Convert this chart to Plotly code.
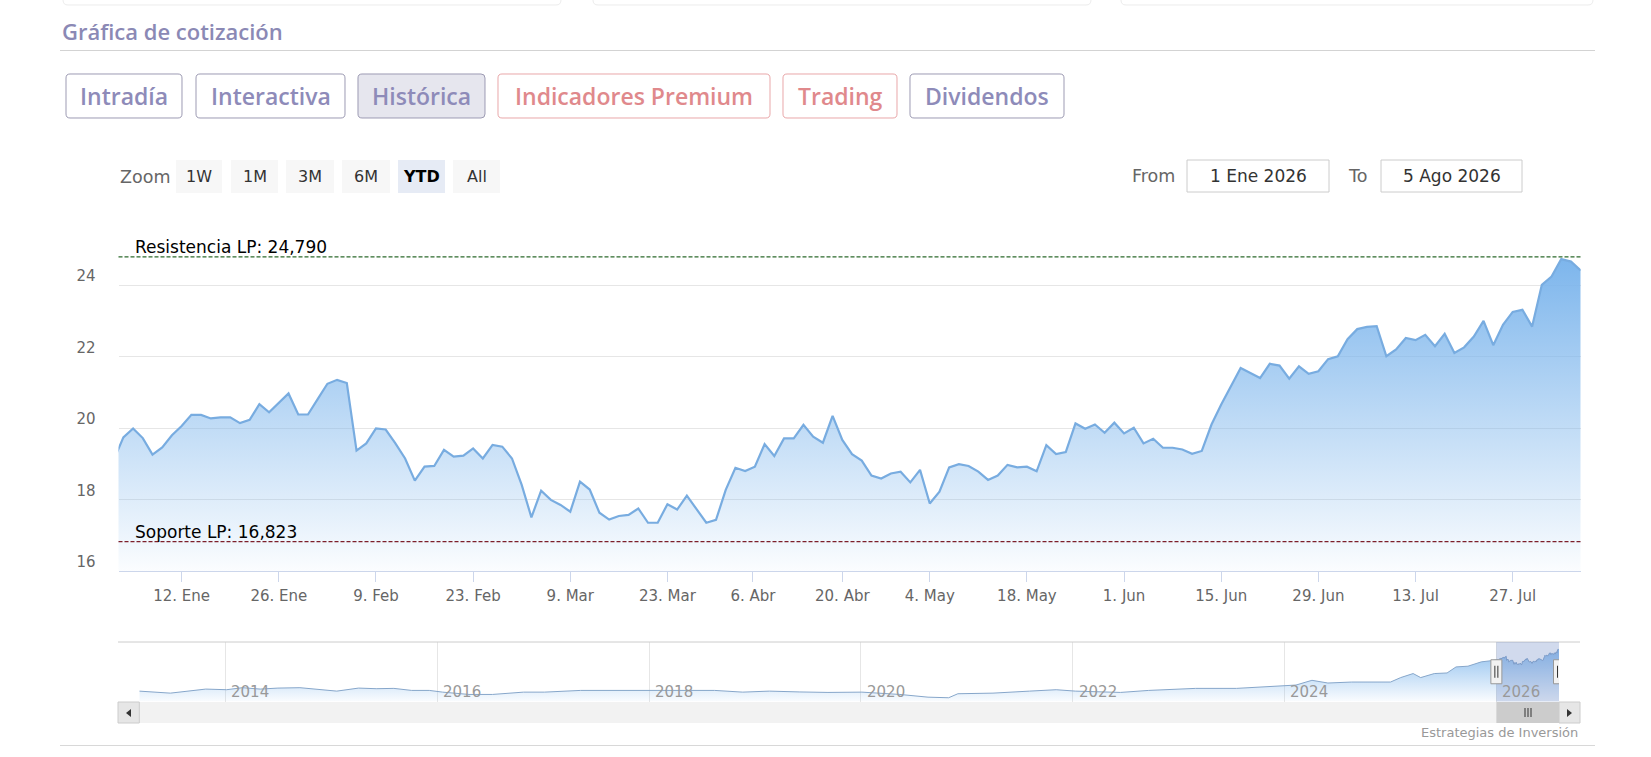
import plotly.graph_objects as go
import pandas as pd
import numpy as np

W, H = 1651, 757

# ------------------------------------------------------------------ data
holidays_2026 = ["2026-01-01", "2026-04-03", "2026-04-06", "2026-05-01"]
trading_days = pd.bdate_range("2025-12-31", "2026-08-05", freq="C", holidays=holidays_2026)

prices = [
    19.10,
    19.74, 19.99, 19.72, 19.26, 19.46, 19.80, 20.06, 20.37, 20.37, 20.27,
    20.30, 20.30, 20.14, 20.23, 20.67, 20.44, 20.70, 20.97, 20.38, 20.38,
    20.81, 21.24, 21.35, 21.26, 19.37, 19.57, 19.99, 19.96, 19.57, 19.15,
    18.53, 18.92, 18.94, 19.39, 19.20, 19.23, 19.43, 19.15, 19.53, 19.48,
    19.15, 18.41, 17.50, 18.25, 17.99, 17.85, 17.66, 18.50, 18.28, 17.63,
    17.44, 17.54, 17.57, 17.75, 17.35, 17.35, 17.87, 17.72, 18.11, 17.72,
    17.35, 17.43, 18.27, 18.89, 18.80, 18.92, 19.55, 19.22, 19.71, 19.71,
    20.09, 19.76, 19.59, 20.34, 19.67, 19.27, 19.09, 18.67, 18.59, 18.73,
    18.78, 18.48, 18.83, 17.89, 18.22, 18.90, 18.99, 18.94, 18.78, 18.55,
    18.67, 18.97, 18.90, 18.92, 18.79, 19.52, 19.27, 19.33, 20.13, 19.98,
    20.10, 19.87, 20.15, 19.85, 20.01, 19.57, 19.70, 19.45, 19.45, 19.40,
    19.28, 19.36, 20.10, 20.66, 21.17, 21.68, 21.54, 21.40, 21.80, 21.75,
    21.38, 21.73, 21.52, 21.59, 21.93, 22.01, 22.49, 22.77, 22.83, 22.85,
    22.01, 22.20, 22.52, 22.46, 22.61, 22.29, 22.64, 22.10, 22.26, 22.56,
    23.00, 22.32, 22.89, 23.25, 23.31, 22.84, 24.01, 24.24, 24.73, 24.66,
    24.41,
]

tick_dates = ["2026-01-12", "2026-01-26", "2026-02-09", "2026-02-23", "2026-03-09",
              "2026-03-23", "2026-04-06", "2026-04-20", "2026-05-04", "2026-05-18",
              "2026-06-01", "2026-06-15", "2026-06-29", "2026-07-13", "2026-07-27"]
tick_labels = ["12. Ene", "26. Ene", "9. Feb", "23. Feb", "9. Mar", "23. Mar", "6. Abr",
               "20. Abr", "4. May", "18. May", "1. Jun", "15. Jun", "29. Jun", "13. Jul",
               "27. Jul"]
y_ticks = [16, 18, 20, 22, 24, 26]
y_tick_labels = ["16", "18", "20", "22", "24", ""]

resistencia = 24.790
soporte = 16.823
range_from, range_to = "2026-01-01", "2026-08-05"

nav_dates = [
    "2013-03-10", "2013-04-25", "2013-06-25", "2013-08-25", "2013-10-25",
    "2014-01-05", "2014-03-01", "2014-05-01", "2014-07-01", "2014-09-15", "2014-11-15",
    "2015-01-20", "2015-04-05", "2015-06-05", "2015-08-05", "2015-10-05", "2015-12-05",
    "2016-01-20", "2016-04-20", "2016-07-10", "2016-10-25",
    "2017-01-05", "2017-05-10", "2017-08-25",
    "2018-01-15", "2018-04-15", "2018-08-15", "2018-11-20",
    "2019-02-20", "2019-06-05", "2019-09-10",
    "2020-01-05", "2020-05-15", "2020-08-20", "2020-10-30", "2020-12-01",
    "2021-04-01", "2021-08-05", "2021-11-05",
    "2022-01-10", "2022-06-15", "2022-09-20",
    "2023-03-01", "2023-07-20", "2023-11-25",
    "2024-02-10", "2024-04-05", "2024-05-30", "2024-08-20", "2024-10-15",
    "2025-01-01", "2025-02-05", "2025-03-20", "2025-04-15", "2025-06-01",
    "2025-07-15", "2025-08-15", "2025-09-25", "2025-11-10", "2025-12-20",
]
nav_values = [
    4.89, 4.41, 3.94, 4.89, 5.84,
    5.55, 6.50, 5.84, 6.31, 6.50, 5.84,
    4.89, 6.31, 6.03, 6.17, 5.22, 5.22,
    4.41, 3.32, 3.32, 4.41,
    4.41, 5.22, 5.22,
    4.89, 4.89, 5.22, 4.41,
    4.89, 4.50, 4.27,
    4.41, 3.32, 2.04, 1.76, 3.65,
    3.94, 4.89, 5.55,
    4.89, 4.27, 5.22,
    6.17, 6.17, 7.12,
    7.74, 9.97, 8.69, 9.16, 9.16,
    9.16, 11.25, 13.15, 11.25, 13.15,
    13.43, 16.28, 16.61, 18.65, 19.30,
]
nav_years = ["2014", "2016", "2018", "2020", "2022", "2024", "2026"]

tabs = ["Intradía", "Interactiva", "Histórica", "Indicadores Premium", "Trading", "Dividendos"]
zoom_buttons = ["1W", "1M", "3M", "6M", "YTD", "All"]

# ------------------------------------------------------------------ helpers
def px(x):
    return x / W


def py(y):
    return 1 - y / H


def rrect(x0, y0, x1, y1, r):
    pts = lambda x, y: f"{px(x):.6f},{py(y):.6f}"
    return (f"M{pts(x0 + r, y0)} L{pts(x1 - r, y0)} Q{pts(x1, y0)} {pts(x1, y0 + r)} "
            f"L{pts(x1, y1 - r)} Q{pts(x1, y1)} {pts(x1 - r, y1)} L{pts(x0 + r, y1)} "
            f"Q{pts(x0, y1)} {pts(x0, y1 - r)} L{pts(x0, y0 + r)} Q{pts(x0, y0)} {pts(x0 + r, y0)} Z")


HC_FONT = "DejaVu Sans"
PAGE_FONT = "Open Sans"

# ordinal positions (trading-day index) like a stock chart
day_ts = trading_days.values.astype("datetime64[s]").astype(np.int64)
pos = np.arange(len(trading_days)) - 1
tick_pos = np.interp(pd.to_datetime(tick_dates).values.astype("datetime64[s]").astype(np.int64), day_ts, pos)
x_start = float(np.interp(pd.Timestamp(range_from).value // 10**9, day_ts, pos))
x_end = float(pos[-1])

# plot geometry (pixels)
PL, PR, PT, PB = 118.5, 1580.7, 213.7, 571.0
NL, NR, NT, NB = 139.3, 1559.0, 642.0, 701.5

fig = go.Figure()

fig.add_trace(go.Scatter(
    x=pos, y=prices, mode="lines",
    line=dict(color="#78ace0", width=2.2),
    fill="tozeroy",
    fillgradient=dict(type="vertical", start=16, stop=24.8,
                      colorscale=[[0, "rgba(124,181,236,0.03)"], [1, "rgba(124,181,236,1.0)"]]),
    hoverinfo="skip", showlegend=False, xaxis="x", yaxis="y",
))

nav_x = nav_dates + [d.strftime("%Y-%m-%d") for d in trading_days[1:]]
nav_y = nav_values + prices[1:]
fig.add_trace(go.Scatter(
    x=nav_x, y=nav_y, mode="lines",
    line=dict(color="#86a6ca", width=1),
    fill="tozeroy",
    fillgradient=dict(type="vertical", start=0, stop=28,
                      colorscale=[[0, "rgba(124,181,236,0.04)"], [1, "rgba(124,181,236,0.95)"]]),
    hoverinfo="skip", showlegend=False, xaxis="x2", yaxis="y2",
))

shapes = []
annotations = []

# faint cards at the very top
for a, b in [(63, 561), (593, 1091), (1121, 1593)]:
    shapes.append(dict(type="path", xref="paper", yref="paper", path=rrect(a, -14, b, 5, 5),
                       line=dict(color="#ececec", width=1), fillcolor="#ffffff", layer="below"))

# heading
annotations.append(dict(text="Gráfica de cotización", x=px(60), y=py(30.5), xref="paper", yref="paper",
                        xanchor="left", yanchor="middle", showarrow=False,
                        font=dict(family=PAGE_FONT, size=22, color="#8b89b5", weight=600)))
shapes.append(dict(type="line", xref="paper", yref="paper", x0=px(60), x1=px(1595), y0=py(50.5), y1=py(50.5),
                   line=dict(color="#d3d3d3", width=1)))

# tabs
tab_boxes = [(66, 182), (196, 345), (358, 485), (498, 770), (783, 897), (910, 1064)]
purple, red = "#8e8bb9", "#e0898c"
for name, (a, b) in zip(tabs, tab_boxes):
    col = red if name in ("Indicadores Premium", "Trading") else purple
    border = "#e9a7a9" if col == red else "#9d9bb3"
    fill = "#e6e6ee" if name == "Histórica" else "#ffffff"
    shapes.append(dict(type="path", xref="paper", yref="paper", path=rrect(a, 74, b, 118, 4),
                       line=dict(color=border, width=1), fillcolor=fill))
    annotations.append(dict(text=name, x=px((a + b) / 2), y=py(96), xref="paper", yref="paper",
                            xanchor="center", yanchor="middle", showarrow=False,
                            font=dict(family=PAGE_FONT, size=23, color=col, weight=600)))

# range selector
annotations.append(dict(text="Zoom", x=px(118), y=py(177), xref="paper", yref="paper", xanchor="left",
                        yanchor="middle", showarrow=False, font=dict(family=HC_FONT, size=17.5, color="#666666")))
zb = [(176, 222), (231, 278), (286, 334), (342, 390), (398, 445), (453, 500)]
for name, (a, b) in zip(zoom_buttons, zb):
    sel = name == "YTD"
    shapes.append(dict(type="rect", xref="paper", yref="paper", x0=px(a), x1=px(b), y0=py(160), y1=py(193),
                       line=dict(width=0), fillcolor="#e6ebf5" if sel else "#f7f7f7"))
    annotations.append(dict(text=f"<b>{name}</b>" if sel else name, x=px((a + b) / 2), y=py(176.5),
                            xref="paper", yref="paper", xanchor="center", yanchor="middle", showarrow=False,
                            font=dict(family=HC_FONT, size=16, color="#000000" if sel else "#333333")))

annotations.append(dict(text="From", x=px(1153), y=py(176), xref="paper", yref="paper", xanchor="center",
                        yanchor="middle", showarrow=False, font=dict(family=HC_FONT, size=17.5, color="#666666")))
annotations.append(dict(text="To", x=px(1357), y=py(176), xref="paper", yref="paper", xanchor="center",
                        yanchor="middle", showarrow=False, font=dict(family=HC_FONT, size=17.5, color="#666666")))
for (a, b), txt in [((1187, 1329), "1 Ene 2026"), ((1381, 1522), "5 Ago 2026")]:
    shapes.append(dict(type="rect", xref="paper", yref="paper", x0=px(a), x1=px(b), y0=py(160), y1=py(192),
                       line=dict(color="#cccccc", width=1), fillcolor="#ffffff"))
    annotations.append(dict(text=txt, x=px((a + b) / 2), y=py(176), xref="paper", yref="paper",
                            xanchor="center", yanchor="middle", showarrow=False,
                            font=dict(family=HC_FONT, size=17, color="#333333")))

# support / resistance
for val, col, label, ys in [(resistencia, "#2c6a2c", "Resistencia LP: 24,790", -2),
                            (soporte, "#7d1f2a", "Soporte LP: 16,823", -2)]:
    shapes.append(dict(type="line", xref="x domain", yref="y", x0=0, x1=1, y0=val, y1=val,
                       line=dict(color=col, width=1.2, dash="4px,2px")))
    annotations.append(dict(text=label, x=px(133), y=val, xref="paper", yref="y", xanchor="left",
                            yanchor="bottom", yshift=ys, showarrow=False,
                            font=dict(family=HC_FONT, size=17, color="#000000")))

# navigator frame and mask
shapes.append(dict(type="line", xref="paper", yref="paper", x0=px(118), x1=px(1580), y0=py(NT), y1=py(NT),
                   line=dict(color="#cccccc", width=1)))
shapes.append(dict(type="rect", xref="x2", yref="y2 domain", x0=range_from, x1=range_to, y0=0, y1=1,
                   line=dict(width=0), fillcolor="rgba(102,133,194,0.3)"))
for anchor in (range_from, range_to):
    shapes.append(dict(type="rect", xref="x2", yref="y2 domain", xsizemode="pixel", ysizemode="pixel",
                       xanchor=anchor, yanchor=0.5, x0=-5.5, x1=5.5, y0=-12, y1=12,
                       line=dict(color="#999999", width=1), fillcolor="#f2f2f2"))
    for off in (-1.5, 1.5):
        shapes.append(dict(type="line", xref="x2", yref="y2 domain", xsizemode="pixel", ysizemode="pixel",
                           xanchor=anchor, yanchor=0.5, x0=off, x1=off, y0=-6, y1=6,
                           line=dict(color="#333333", width=1)))
for yr in nav_years:
    annotations.append(dict(text=yr, x=f"{yr}-01-01", y=py(691.5), xref="x2", yref="paper", xanchor="left",
                            yanchor="middle", xshift=4, showarrow=False,
                            font=dict(family=HC_FONT, size=15, color="#999999")))

# scrollbar
shapes.append(dict(type="rect", xref="paper", yref="paper", x0=px(118), x1=px(1580), y0=py(702), y1=py(723),
                   line=dict(width=0), fillcolor="#f2f2f2"))
shapes.append(dict(type="rect", xref="x2", yref="paper", x0=range_from, x1=range_to, y0=py(702), y1=py(723),
                   line=dict(width=0), fillcolor="#cccccc"))
for off in (-3, 0, 3):
    shapes.append(dict(type="line", xref="paper", yref="paper", x0=px(1528 + off), x1=px(1528 + off),
                       y0=py(708), y1=py(717), line=dict(color="#333333", width=1)))
for a, b, pts in [(118, 139.3, [(131, 709), (131, 717), (126, 713)]),
                  (1559, 1580, [(1567, 709), (1567, 717), (1572, 713)])]:
    shapes.append(dict(type="rect", xref="paper", yref="paper", x0=px(a), x1=px(b), y0=py(702), y1=py(723),
                       line=dict(color="#cccccc", width=1), fillcolor="#e6e6e6"))
    path = "M" + " L".join(f"{px(x):.6f},{py(y):.6f}" for x, y in pts) + " Z"
    shapes.append(dict(type="path", xref="paper", yref="paper", path=path,
                       line=dict(width=0), fillcolor="#333333"))

annotations.append(dict(text="Estrategias de Inversión", x=px(1580), y=py(732), xref="paper", yref="paper",
                        xanchor="right", yanchor="middle", showarrow=False,
                        font=dict(family=HC_FONT, size=13, color="#999999")))
shapes.append(dict(type="line", xref="paper", yref="paper", x0=px(60), x1=px(1595), y0=py(745.5), y1=py(745.5),
                   line=dict(color="#d8d8d8", width=1)))

fig.update_layout(
    width=W, height=H,
    margin=dict(l=0, r=0, t=0, b=0),
    paper_bgcolor="#ffffff", plot_bgcolor="rgba(0,0,0,0)",
    showlegend=False,
    shapes=shapes, annotations=annotations,
    xaxis=dict(domain=[px(PL), px(PR)], range=[x_start, x_end], anchor="y",
               tickmode="array", tickvals=tick_pos, ticktext=tick_labels,
               showgrid=False, zeroline=False, showline=True, linecolor="#ccd6eb", linewidth=1,
               ticks="outside", ticklen=10, tickcolor="#ccd6eb", tickwidth=1,
               tickfont=dict(family=HC_FONT, size=15, color="#666666"), ticklabelstandoff=1,
               fixedrange=True),
    yaxis=dict(domain=[py(PB), py(PT)], range=[16, 26], anchor="x",
               tickmode="array", tickvals=y_ticks, ticktext=y_tick_labels,
               showgrid=True, gridcolor="#e6e6e6", gridwidth=1, zeroline=False, showline=False,
               ticks="", tickfont=dict(family=HC_FONT, size=15, color="#666666"),
               ticklabelstandoff=22, ticklabelshift=-9, fixedrange=True),
    xaxis2=dict(domain=[px(NL), px(NR)], range=[nav_dates[0], range_to], anchor="y2", type="date",
                tickmode="array", tickvals=[f"{y}-01-01" for y in nav_years], showticklabels=False,
                showgrid=True, gridcolor="#e6e6e6", gridwidth=1, zeroline=False, showline=False,
                ticks="", fixedrange=True),
    yaxis2=dict(domain=[py(NB), py(NT)], range=[0, 28], anchor="x2", showgrid=False, zeroline=False,
                showline=False, showticklabels=False, ticks="", fixedrange=True),
)

fig.write_html("out.html", config={"displayModeBar": False},
               post_script="document.body.style.margin='0';document.body.style.overflow='hidden';")
